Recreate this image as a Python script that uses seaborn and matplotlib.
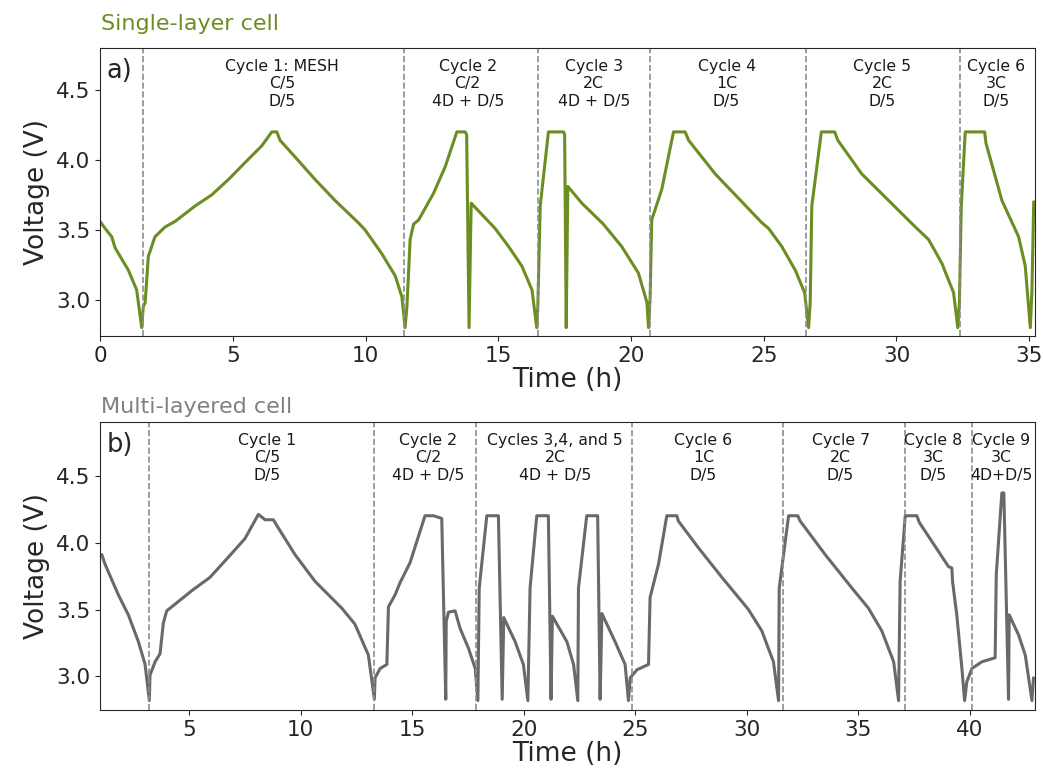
import matplotlib
matplotlib.use("Agg")
import matplotlib.pyplot as plt
import seaborn as sns

# single-layer cell (top panel)
single_time = [0.0, 0.19, 0.44, 0.57, 1.07, 1.38, 1.57, 1.63, 1.70, 1.82,
               2.07, 2.45, 2.83, 3.58, 4.21, 4.84, 5.46, 6.09, 6.47, 6.66,
               6.78, 7.35, 8.10, 8.85, 9.73, 9.98, 10.61, 11.12, 11.37, 11.49,
               11.56, 11.68, 11.81, 12.0, 12.56, 13.0, 13.44, 13.75, 13.81, 13.90,
               13.98, 14.88, 15.39, 15.89, 16.27, 16.45,
               16.49, 16.58, 16.89, 17.46, 17.50, 17.56, 17.62, 18.15, 18.96, 19.65,
               20.28, 20.60, 20.66,
               20.72, 20.78, 21.16, 21.60, 22.04, 22.17, 23.17, 24.93, 25.18, 25.68,
               26.19, 26.54, 26.69,
               26.75, 26.81, 27.17, 27.67, 27.79, 28.69, 29.70, 30.71, 31.21, 31.71,
               32.15, 32.31,
               32.37, 32.44, 32.59, 33.32, 33.37, 33.97, 34.60, 34.85, 35.04, 35.10, 35.17]
single_volt = [3.56, 3.51, 3.45, 3.37, 3.21, 3.07, 2.80, 2.95, 2.98, 3.31,
               3.45, 3.52, 3.56, 3.67, 3.75, 3.86, 3.98, 4.10, 4.20, 4.20,
               4.14, 4.02, 3.86, 3.71, 3.55, 3.50, 3.33, 3.17, 3.02, 2.80,
               2.95, 3.43, 3.54, 3.57, 3.76, 3.95, 4.20, 4.20, 4.18, 2.80,
               3.69, 3.51, 3.38, 3.24, 3.07, 2.80,
               2.95, 3.67, 4.20, 4.20, 4.18, 2.80, 3.81, 3.69, 3.54, 3.38,
               3.19, 2.98, 2.80,
               3.01, 3.57, 3.79, 4.20, 4.20, 4.14, 3.90, 3.55, 3.51, 3.38,
               3.21, 3.05, 2.80,
               2.98, 3.67, 4.20, 4.20, 4.14, 3.90, 3.71, 3.52, 3.43, 3.26,
               3.05, 2.80,
               2.98, 3.67, 4.20, 4.20, 4.12, 3.71, 3.45, 3.24, 2.80, 3.05, 3.70]
single_bounds = [1.62, 11.45, 16.5, 20.7, 26.6, 32.4]
single_labels = ["Cycle 1: MESH\nC/5\nD/5", "Cycle 2\nC/2\n4D + D/5", "Cycle 3\n2C\n4D + D/5",
                 "Cycle 4\n1C\nD/5", "Cycle 5\n2C\nD/5", "Cycle 6\n3C\nD/5"]
single_label_x = [6.85, 13.85, 18.6, 23.6, 29.45, 33.75]

# multi-layered cell (bottom panel)
multi_time = [1.0, 1.08, 1.22, 1.82, 2.27, 2.72, 3.02, 3.21,
              3.24, 3.47, 3.69, 3.84, 3.99, 4.44, 5.11, 5.93, 6.75, 7.50, 8.10, 8.25,
              8.40, 8.77, 8.84, 9.74, 10.64, 11.84, 12.43, 13.03, 13.30,
              13.33, 13.56, 13.86, 13.93, 14.23, 14.45, 14.90, 15.57, 15.95, 16.32,
              16.50, 16.52, 16.62, 16.92, 17.14, 17.52, 17.82, 17.94,
              18.00, 18.34, 18.86, 19.03, 19.10, 19.61, 19.98, 20.18,
              20.28, 20.58, 21.10, 21.22, 21.28, 21.93, 22.23, 22.42,
              22.45, 22.82, 23.31, 23.42, 23.50, 24.09, 24.54, 24.69,
              24.77, 25.07, 25.59, 25.66, 26.04, 26.41, 26.86, 26.93, 27.83, 28.88,
              30.07, 30.67, 31.19, 31.42,
              31.45, 31.87, 32.28, 32.39, 33.51, 34.71, 35.45, 36.05, 36.58, 36.80,
              36.87, 37.10, 37.62, 37.73, 39.04, 39.19, 39.22, 39.41, 39.64, 39.76,
              39.86, 40.09, 40.54, 41.13, 41.18, 41.43, 41.52, 41.73, 41.76, 42.18,
              42.48, 42.78, 42.85]
multi_volt = [3.91, 3.91, 3.84, 3.61, 3.46, 3.26, 3.09, 2.82,
              3.01, 3.11, 3.17, 3.40, 3.49, 3.55, 3.64, 3.74, 3.89, 4.03, 4.21, 4.19,
              4.17, 4.17, 4.15, 3.91, 3.71, 3.51, 3.39, 3.16, 2.83,
              2.99, 3.06, 3.09, 3.52, 3.61, 3.70, 3.85, 4.20, 4.20, 4.18,
              2.83, 3.41, 3.48, 3.49, 3.36, 3.21, 3.06, 2.82,
              3.66, 4.20, 4.20, 2.83, 3.44, 3.26, 3.09, 2.82,
              3.66, 4.20, 4.20, 2.83, 3.45, 3.26, 3.09, 2.82,
              3.66, 4.20, 4.20, 2.83, 3.47, 3.26, 3.09, 2.82,
              2.99, 3.05, 3.09, 3.59, 3.84, 4.20, 4.20, 4.16, 3.96, 3.74,
              3.50, 3.34, 3.11, 2.82,
              3.66, 4.20, 4.20, 4.16, 3.91, 3.66, 3.51, 3.34, 3.11, 2.82,
              3.71, 4.20, 4.20, 4.15, 3.82, 3.81, 3.71, 3.46, 3.06, 2.82,
              2.96, 3.06, 3.11, 3.14, 3.76, 4.37, 4.37, 2.83, 3.46, 3.31,
              3.16, 2.82, 2.99]
multi_bounds = [3.2, 13.28, 17.87, 24.85, 31.6, 37.08, 40.1]
multi_labels = ["Cycle 1\nC/5\nD/5", "Cycle 2\nC/2\n4D + D/5", "Cycles 3,4, and 5\n2C\n4D + D/5",
                "Cycle 6\n1C\nD/5", "Cycle 7\n2C\nD/5", "Cycle 8\n3C\nD/5", "Cycle 9\n3C\n4D+D/5"]
multi_label_x = [8.5, 15.7, 21.4, 28.05, 34.2, 38.35, 41.4]

green = "#6b8e23"
grey = "#696969"


def draw_panel(ax, time, volt, color, bounds, labels, label_x, letter):
    sns.lineplot(x=time, y=volt, ax=ax, color=color, lw=2.2, sort=False, estimator=None)
    for b in bounds:
        ax.axvline(b, color="#8c8c8c", ls="--", lw=1.2)
    for x, lab in zip(label_x, labels):
        ax.text(x, 0.962, lab, transform=ax.get_xaxis_transform(), ha="center", va="top",
                fontsize=11.3, multialignment="center", color="#1a1a1a")
    ax.text(0.007, 0.965, letter, transform=ax.transAxes, ha="left", va="top", fontsize=18.5)
    ax.set_yticks([3.0, 3.5, 4.0, 4.5])
    ax.set_xlabel("Time (h)", fontsize=19, labelpad=1)
    ax.set_ylabel("Voltage (V)", fontsize=19)
    ax.tick_params(labelsize=15.5)


def main():
    sns.set_style("ticks")
    fig = plt.figure(figsize=(10.43, 7.82), dpi=100)
    ax1 = fig.add_axes([0.0959, 0.5703, 0.8965, 0.3683])
    ax2 = fig.add_axes([0.0959, 0.0921, 0.8965, 0.3683])

    draw_panel(ax1, single_time, single_volt, green, single_bounds, single_labels,
               single_label_x, "a)")
    ax1.set_xlim(0, 35.22)
    ax1.set_ylim(2.74, 4.8)
    ax1.set_xticks(range(0, 36, 5))

    draw_panel(ax2, multi_time, multi_volt, grey, multi_bounds, multi_labels,
               multi_label_x, "b)")
    ax2.set_xlim(1.0, 42.92)
    ax2.set_ylim(2.75, 4.9)
    ax2.set_xticks(range(5, 41, 5))

    fig.text(0.0965, 0.9616, "Single-layer cell", color=green, fontsize=16)
    fig.text(0.0965, 0.4719, "Multi-layered cell", color="#808080", fontsize=16)

    fig.savefig("out.png", dpi=100)


if __name__ == "__main__":
    main()
